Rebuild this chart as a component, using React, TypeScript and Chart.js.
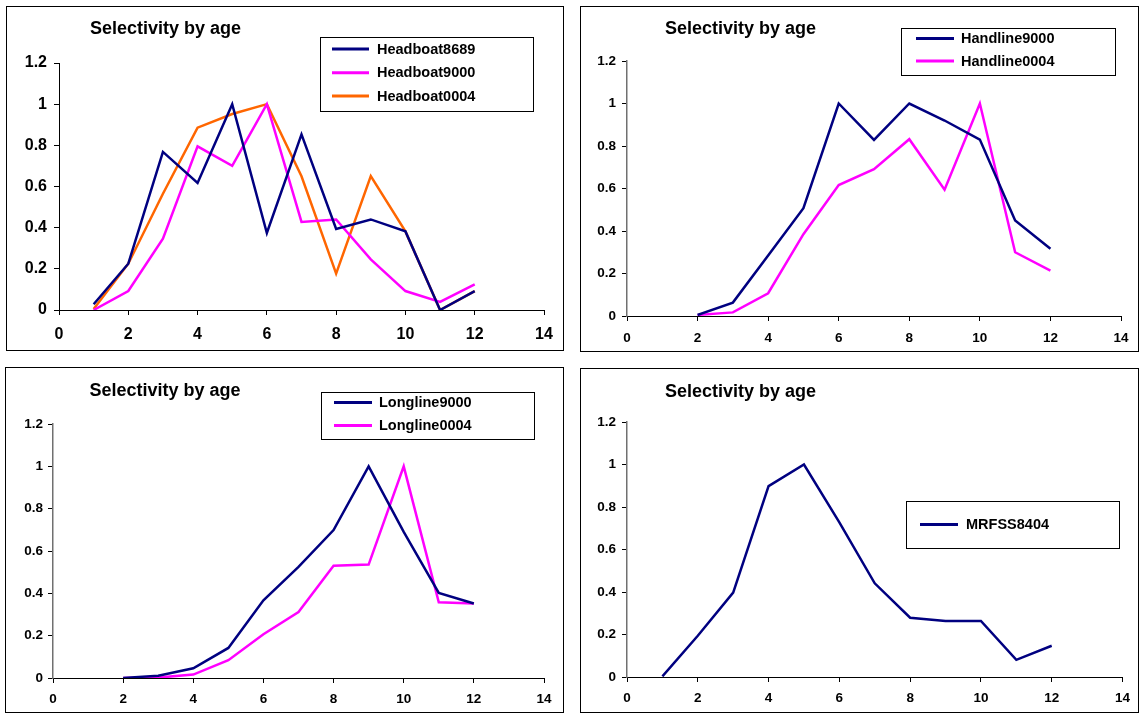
import React, { useEffect, useRef } from 'react';
import { Chart, registerables } from 'chart.js';
Chart.register(...registerables);

// ---------- data ----------
const ages = [1, 2, 3, 4, 5, 6, 7, 8, 9, 10, 11, 12];

const headboat8689 = [0.028, 0.225, 0.768, 0.617, 1.0, 0.374, 0.853, 0.394, 0.44, 0.382, 0.0, 0.092];
const headboat9000 = [0.0, 0.092, 0.347, 0.795, 0.7, 1.0, 0.428, 0.44, 0.246, 0.092, 0.039, 0.125];
const headboat0004 = [0.005, 0.225, 0.565, 0.886, 0.952, 1.0, 0.65, 0.177, 0.651, 0.382, 0.0, 0.092];

const handline9000 = [null, 0.005, 0.063, 0.285, 0.507, 1.0, 0.829, 1.0, 0.92, 0.83, 0.449, 0.316];
const handline0004 = [null, 0.005, 0.017, 0.107, 0.385, 0.616, 0.691, 0.832, 0.594, 1.0, 0.3, 0.214];

const longline9000 = [null, 0.0, 0.011, 0.046, 0.142, 0.367, 0.525, 0.699, 1.0, 0.69, 0.402, 0.352];
const longline0004 = [null, 0.0, 0.002, 0.016, 0.084, 0.207, 0.312, 0.53, 0.536, 1.0, 0.358, 0.352];

const mrfss8404 = [0.003, 0.194, 0.397, 0.898, 1.0, 0.728, 0.441, 0.279, 0.264, 0.264, 0.081, 0.147];

const xTickLabels = ['0', '2', '4', '6', '8', '10', '12', '14'];
const yTickLabels = ['0', '0.2', '0.4', '0.6', '0.8', '1', '1.2'];

const titleText = 'Selectivity by age';

// ---------- styles ----------
const NAVY = '#000080';
const MAGENTA = '#FF00FF';
const ORANGE = '#FF6600';
const FONT = '"Liberation Sans", Arial, sans-serif';

type Series = { label: string; values: (number | null)[]; color: string };
type PanelCfg = {
  border: [number, number, number, number];
  area: [number, number, number, number];
  tickFont: number;
  xPad: number;
  yPad: number;
  yAxisColor: string;
  title: [number, number];
  legend: { box: [number, number, number, number]; line: [number, number]; textX: number; rows: number[] };
  series: Series[];
};

const panels: PanelCfg[] = [
  {
    border: [6, 6, 564, 351],
    area: [59, 63, 544, 310],
    tickFont: 16,
    xPad: 10,
    yPad: 7,
    yAxisColor: '#000',
    title: [90, 29.5],
    legend: { box: [320, 37, 533, 111], line: [332, 369], textX: 377, rows: [49, 72.7, 96] },
    series: [
      { label: 'Headboat8689', values: headboat8689, color: NAVY },
      { label: 'Headboat9000', values: headboat9000, color: MAGENTA },
      { label: 'Headboat0004', values: headboat0004, color: ORANGE },
    ],
  },
  {
    border: [580, 6, 1139, 352],
    area: [627, 61, 1121, 316],
    tickFont: 13.5,
    xPad: 9,
    yPad: 6,
    yAxisColor: '#707070',
    title: [665, 29.5],
    legend: { box: [901, 28, 1115, 75], line: [916, 954], textX: 961, rows: [38.5, 61] },
    series: [
      { label: 'Handline9000', values: handline9000, color: NAVY },
      { label: 'Handline0004', values: handline0004, color: MAGENTA },
    ],
  },
  {
    border: [5, 367, 564, 713],
    area: [53, 424, 544, 678],
    tickFont: 13.5,
    xPad: 8,
    yPad: 5,
    yAxisColor: '#707070',
    title: [89.5, 391],
    legend: { box: [321, 392, 534, 439], line: [334, 372], textX: 379, rows: [402.5, 425.5] },
    series: [
      { label: 'Longline9000', values: longline9000, color: NAVY },
      { label: 'Longline0004', values: longline0004, color: MAGENTA },
    ],
  },
  {
    border: [580, 368, 1139, 713],
    area: [627, 422, 1125, 677],
    tickFont: 13.5,
    xPad: 8,
    yPad: 6,
    yAxisColor: '#707070',
    title: [665, 392],
    legend: { box: [906, 501, 1119, 548], line: [920, 958], textX: 966, rows: [524.5] },
    series: [{ label: 'MRFSS8404', values: mrfss8404, color: NAVY }],
  },
];

function Panel({ cfg }: { cfg: PanelCfg }) {
  const ref = useRef<HTMLCanvasElement | null>(null);
  const [bx, by, br, bb] = cfg.border;
  const W = br - bx;
  const H = bb - by;
  const cw = W - 2;
  const ch = H - 2;
  const ox = bx + 1;
  const oy = by + 1;

  useEffect(() => {
    if (!ref.current) return;
    const [al, at, ar, ab] = cfg.area;
    const overlay = {
      id: 'overlay',
      afterDraw(chart: any) {
        const ctx = chart.ctx as CanvasRenderingContext2D;
        ctx.save();
        // title
        ctx.fillStyle = '#000';
        ctx.font = `bold 18px ${FONT}`;
        ctx.textAlign = 'left';
        ctx.textBaseline = 'middle';
        ctx.fillText(titleText, cfg.title[0] - ox, cfg.title[1] - oy);
        // legend box
        const [ll, lt, lr, lb] = cfg.legend.box;
        ctx.fillStyle = '#fff';
        ctx.fillRect(ll - ox, lt - oy, lr - ll, lb - lt);
        ctx.strokeStyle = '#000';
        ctx.lineWidth = 1;
        ctx.strokeRect(Math.round(ll - ox) + 0.5, Math.round(lt - oy) + 0.5, Math.round(lr - ll), Math.round(lb - lt));
        cfg.series.forEach((s, i) => {
          const y = cfg.legend.rows[i] - oy;
          ctx.strokeStyle = s.color;
          ctx.lineWidth = 3;
          ctx.beginPath();
          ctx.moveTo(cfg.legend.line[0] - ox, y);
          ctx.lineTo(cfg.legend.line[1] - ox, y);
          ctx.stroke();
          ctx.fillStyle = '#000';
          ctx.font = `bold 14.5px ${FONT}`;
          ctx.textAlign = 'left';
          ctx.textBaseline = 'middle';
          ctx.fillText(s.label, cfg.legend.textX - ox, y + 0.5);
        });
        ctx.restore();
      },
    };

    const chart = new Chart(ref.current, {
      type: 'line',
      data: {
        datasets: cfg.series.map((s) => ({
          label: s.label,
          data: ages.map((a, i) => ({ x: a, y: s.values[i] })),
          borderColor: s.color,
          backgroundColor: s.color,
          borderWidth: 2.5,
          pointRadius: 0,
          tension: 0,
          fill: false,
        })),
      },
      options: {
        animation: false,
        responsive: false,
        devicePixelRatio: 1,
        layout: { padding: { left: 0, top: at - oy, right: ox + cw - ar, bottom: 0 } },
        plugins: { legend: { display: false }, title: { display: false }, tooltip: { enabled: false } },
        scales: {
          x: {
            type: 'linear',
            min: 0,
            max: 14,
            afterFit: (scale: any) => {
              scale.height = oy + ch - ab;
            },
            afterBuildTicks: (scale: any) => {
              scale.ticks = xTickLabels.map((t) => ({ value: Number(t) }));
            },
            ticks: {
              callback: (_v: any, i: number) => xTickLabels[i],
              color: '#000',
              font: { family: FONT, size: cfg.tickFont, weight: 'bold' },
              padding: cfg.xPad,
              maxRotation: 0,
              autoSkip: false,
            },
            grid: { display: true, drawOnChartArea: false, drawTicks: true, tickLength: 5, tickColor: '#000', color: '#000' },
            border: { display: true, color: '#000', width: 1 },
          },
          y: {
            type: 'linear',
            min: 0,
            max: 1.2,
            afterFit: (scale: any) => {
              scale.width = al - ox;
            },
            afterBuildTicks: (scale: any) => {
              scale.ticks = yTickLabels.map((t) => ({ value: Number(t) }));
            },
            ticks: {
              callback: (_v: any, i: number) => yTickLabels[i],
              color: '#000',
              font: { family: FONT, size: cfg.tickFont, weight: 'bold' },
              padding: cfg.yPad,
              autoSkip: false,
            },
            grid: { display: true, drawOnChartArea: false, drawTicks: true, tickLength: 5, tickColor: '#000', color: '#000' },
            border: { display: true, color: cfg.yAxisColor, width: cfg.yAxisColor === '#000' ? 1 : 1.5 },
          },
        },
      },
      plugins: [overlay],
    } as any);
    return () => chart.destroy();
  }, [cfg]);

  return (
    <div
      style={{
        position: 'absolute',
        left: bx,
        top: by,
        width: W,
        height: H,
        border: '1px solid #000',
        boxSizing: 'border-box',
        background: '#fff',
      }}
    >
      <canvas ref={ref} width={cw} height={ch} style={{ display: 'block', width: cw, height: ch }} />
    </div>
  );
}

export default function App() {
  return (
    <div style={{ position: 'fixed', left: 0, top: 0, width: 1143, height: 719, background: '#fff' }}>
      {panels.map((p, i) => (
        <Panel key={i} cfg={p} />
      ))}
    </div>
  );
}
